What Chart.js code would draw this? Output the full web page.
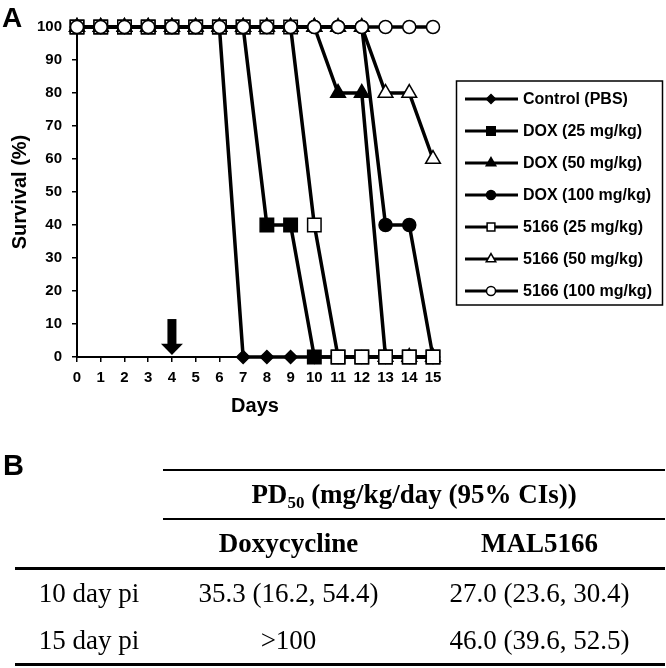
<!DOCTYPE html>
<html>
<head>
<meta charset="utf-8">
<script src="https://cdn.jsdelivr.net/npm/chart.js@4.4.1/dist/chart.umd.min.js"></script>
<style>
  html, body { margin: 0; padding: 0; background: #fff; }
  #wrap { position: relative; width: 666px; height: 668px; overflow: hidden; }
  #survival { position: absolute; left: 0; top: 0; }
  .panel { position: absolute; font-family: 'Liberation Sans', Arial, sans-serif; font-weight: bold; color: #000; line-height: 1; }
  #panelA { left: 2px; top: 4px; font-size: 28px; }
  #panelB { left: 3px; top: 451px; font-size: 29px; }
  #pd50 { position: absolute; left: 15px; top: 469px; width: 650px; border-collapse: collapse; table-layout: fixed;
          font-family: 'Liberation Serif', 'Times New Roman', serif; font-size: 27px; color: #000; }
  #pd50 td { text-align: center; padding: 0; }
  #pd50 sub { font-size: 17px; vertical-align: -5px; line-height: 0; }
  .h1 td.span { border-top: 2px solid #000; border-bottom: 2px solid #000; height: 47px; font-weight: bold; }
  .h2 td { border-bottom: 3px solid #000; height: 47px; font-weight: bold; }
  .r1 td { height: 47px; }
  .r2 td { height: 46px; border-bottom: 3px solid #000; }
</style>
</head>
<body>
<div id="wrap">
  <canvas id="survival" width="666" height="425"></canvas>
  <div class="panel" id="panelA">A</div>
  <div class="panel" id="panelB">B</div>
  <table id="pd50">
    <colgroup><col style="width:148px"><col style="width:251px"><col style="width:251px"></colgroup>
    <tr class="h1"><td></td><td class="span" colspan="2">PD<sub>50</sub> (mg/kg/day (95% CIs))</td></tr>
    <tr class="h2"><td></td><td>Doxycycline</td><td>MAL5166</td></tr>
    <tr class="r1"><td>10 day pi</td><td>35.3 (16.2, 54.4)</td><td>27.0 (23.6, 30.4)</td></tr>
    <tr class="r2"><td>15 day pi</td><td>&gt;100</td><td>46.0 (39.6, 52.5)</td></tr>
  </table>
</div>
<script>
// survival data (% alive per day)
var days    = [0, 1, 2, 3, 4, 5, 6, 7, 8, 9, 10, 11, 12, 13, 14, 15];
var control = [100, 100, 100, 100, 100, 100, 100, 0, 0, 0, 0, 0, 0, 0, 0, 0];
var dox25   = [100, 100, 100, 100, 100, 100, 100, 100, 40, 40, 0, 0, 0, 0, 0, 0];
var dox50   = [100, 100, 100, 100, 100, 100, 100, 100, 100, 100, 100, 80, 80, 0, 0, 0];
var dox100  = [100, 100, 100, 100, 100, 100, 100, 100, 100, 100, 100, 100, 100, 40, 40, 0];
var mal25   = [100, 100, 100, 100, 100, 100, 100, 100, 100, 100, 40, 0, 0, 0, 0, 0];
var mal50   = [100, 100, 100, 100, 100, 100, 100, 100, 100, 100, 100, 100, 100, 80, 80, 60];
var mal100  = [100, 100, 100, 100, 100, 100, 100, 100, 100, 100, 100, 100, 100, 100, 100, 100];
var seriesLabels = ['Control (PBS)', 'DOX (25 mg/kg)', 'DOX (50 mg/kg)', 'DOX (100 mg/kg)',
                    '5166 (25 mg/kg)', '5166 (50 mg/kg)', '5166 (100 mg/kg)'];
var yTicks = [0, 10, 20, 30, 40, 50, 60, 70, 80, 90, 100];
var treatmentDay = 4;

Chart.defaults.font.family = "'Liberation Sans', Arial, sans-serif";
Chart.defaults.color = '#000';

function series(i, data, style, radius, fill, legendRadius) {
  return {
    label: seriesLabels[i],
    data: data,
    order: 7 - i,            // later groups sit on top
    borderColor: '#000',
    borderWidth: 3.5,
    pointStyle: style,
    pointRadius: radius,
    pointBackgroundColor: fill,
    pointBorderColor: '#000',
    pointBorderWidth: 1.5,
    legendRadius: legendRadius,
    tension: 0,
    clip: false
  };
}

// arrow marking the day of treatment
var arrowPlugin = {
  id: 'arrow',
  afterDraw: function (chart) {
    var ctx = chart.ctx, x = chart.scales.x.getPixelForValue(treatmentDay), y = chart.scales.y;
    var top = y.getPixelForValue(11.5), neck = y.getPixelForValue(4), tip = y.getPixelForValue(0.6);
    ctx.save();
    ctx.fillStyle = '#000';
    ctx.fillRect(x - 4.5, top, 9, neck - top + 1);
    ctx.beginPath();
    ctx.moveTo(x - 11, neck);
    ctx.lineTo(x + 11, neck);
    ctx.lineTo(x, tip);
    ctx.closePath();
    ctx.fill();
    ctx.restore();
  }
};

// boxed legend with line + marker samples
var legendBox = {
  id: 'legendBox',
  afterDraw: function (chart) {
    var ctx = chart.ctx;
    ctx.save();
    ctx.strokeStyle = '#000';
    ctx.lineWidth = 1.5;
    ctx.strokeRect(456.5, 81, 206, 224);
    ctx.font = "bold 16px 'Liberation Sans', Arial, sans-serif";
    ctx.textBaseline = 'middle';
    chart.data.datasets.forEach(function (ds, i) {
      var y = 99 + i * 32;
      ctx.strokeStyle = '#000';
      ctx.lineWidth = 3;
      ctx.beginPath();
      ctx.moveTo(465, y);
      ctx.lineTo(518, y);
      ctx.stroke();
      ctx.fillStyle = ds.pointBackgroundColor;
      ctx.lineWidth = 1.5;
      Chart.helpers.drawPoint(ctx, { pointStyle: ds.pointStyle, radius: ds.legendRadius, rotation: 0, borderWidth: 1.5 }, 491, y);
      ctx.fillStyle = '#000';
      ctx.fillText(ds.label, 523, y + 1);
    });
    ctx.restore();
  }
};

new Chart(document.getElementById('survival').getContext('2d'), {
  type: 'line',
  data: {
    labels: days,
    datasets: [
      series(0, control, 'rectRot', 6.5, '#000', 4.5),
      series(1, dox25, 'rect', 9.5, '#000', 6),
      series(2, dox50, 'triangle', 8.5, '#000', 5.5),
      series(3, dox100, 'circle', 6.5, '#000', 4.5),
      series(4, mal25, 'rect', 9.5, '#fff', 5.5),
      series(5, mal50, 'triangle', 8.5, '#fff', 5.5),
      series(6, mal100, 'circle', 6.5, '#fff', 4.5)
    ]
  },
  options: {
    responsive: false,
    devicePixelRatio: 1,
    animation: false,
    layout: { padding: { top: 27, right: 233, left: 0, bottom: 0 } },
    plugins: { legend: { display: false }, tooltip: { enabled: false } },
    scales: {
      x: {
        type: 'category',
        offset: false,
        afterFit: function (s) { s.height = 68; },
        grid: { drawOnChartArea: false, drawTicks: true, tickLength: 5, color: '#000', lineWidth: 1.5, offset: false },
        border: { color: '#000', width: 2 },
        ticks: { font: { size: 15, weight: 'bold' }, padding: 7, maxRotation: 0, autoSkip: false },
        title: { display: true, text: 'Days', font: { size: 20, weight: 'bold' }, padding: { top: 0, bottom: 7 } }
      },
      y: {
        min: 0,
        max: 100,
        afterFit: function (s) { s.width = 77; },
        afterBuildTicks: function (s) { s.ticks = yTicks.map(function (v) { return { value: v }; }); },
        grid: { drawOnChartArea: false, drawTicks: true, tickLength: 5, color: '#000', lineWidth: 1.5 },
        border: { color: '#000', width: 2 },
        ticks: { font: { size: 15, weight: 'bold' }, padding: 10 },
        title: { display: true, text: 'Survival (%)', font: { size: 20, weight: 'bold' }, padding: { top: 8, bottom: 0 } }
      }
    }
  },
  plugins: [arrowPlugin, legendBox]
});
</script>
</body>
</html>
